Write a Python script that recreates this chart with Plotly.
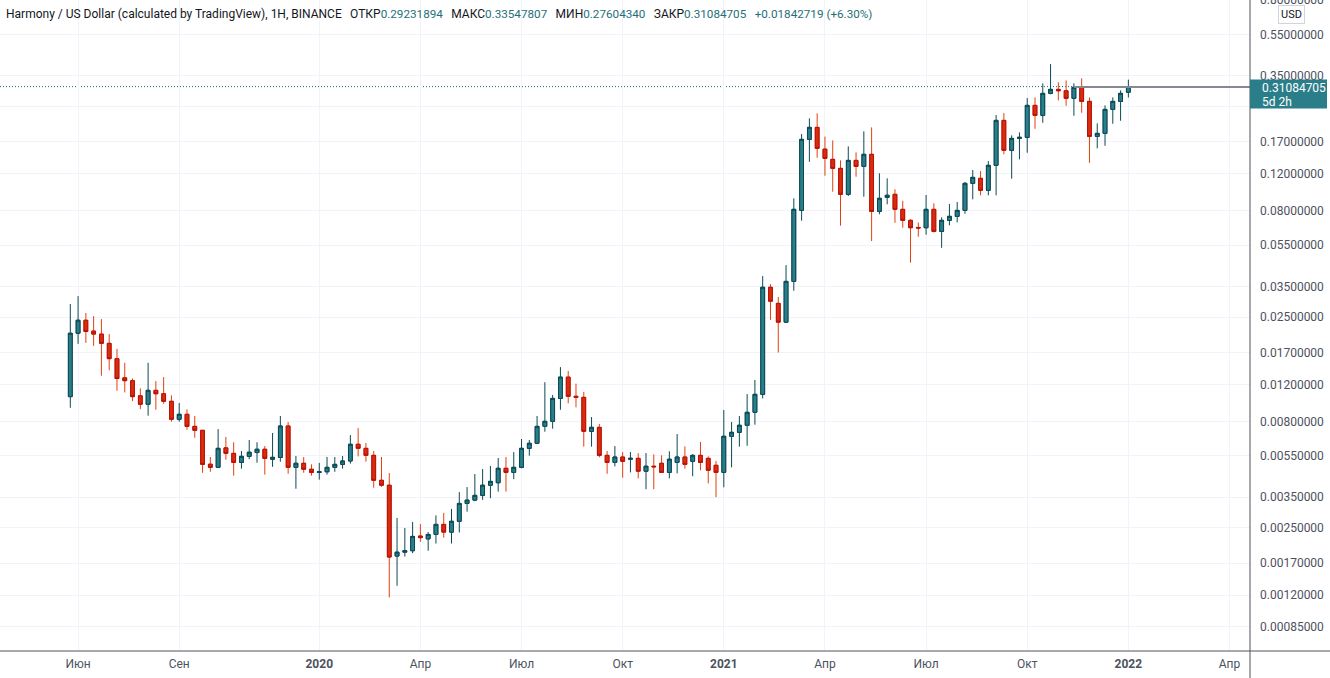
import math
import pandas as pd
import plotly.graph_objects as go

# ---------------- data (weekly candles, ONE/USD) ----------------
start_week = "2019-05-27"

open_ = [0.0105, 0.0210, 0.0242, 0.0215, 0.0208, 0.0188, 0.0159, 0.0129, 0.0125, 0.0106,
         0.00966, 0.01125, 0.01084, 0.00998, 0.0082, 0.00866, 0.00759, 0.00727, 0.00502, 0.00485,
         0.0060, 0.00565, 0.00512, 0.00547, 0.0057, 0.00591, 0.0053, 0.0054, 0.00762, 0.00485,
         0.00507, 0.00475, 0.00459, 0.00462, 0.00485, 0.00501, 0.0052, 0.00624, 0.00597, 0.00553,
         0.00421, 0.00399, 0.00184, 0.00192, 0.00195, 0.00229, 0.00222, 0.00233, 0.0026, 0.00239,
         0.00269, 0.00327, 0.00339, 0.00357, 0.00399, 0.0041, 0.0048, 0.00459, 0.00485, 0.00597,
         0.00631, 0.0076, 0.00802, 0.0103, 0.0130, 0.01054, 0.01042, 0.00719, 0.00751, 0.00553,
         0.00512, 0.00543, 0.0053, 0.00535, 0.00465, 0.00491, 0.00507, 0.00459, 0.00512, 0.00543,
         0.00518, 0.00553, 0.00535, 0.00496, 0.00459, 0.00681, 0.00711, 0.00768, 0.00885, 0.01077,
         0.0347, 0.0291, 0.0237, 0.0370, 0.0804, 0.1746, 0.1991, 0.157, 0.1404, 0.1272,
         0.0958, 0.1388, 0.130, 0.1483, 0.0795, 0.0927, 0.0958, 0.0813, 0.0721, 0.0667,
         0.0665, 0.0813, 0.0639, 0.0721, 0.0753, 0.0804, 0.108, 0.1141, 0.1001, 0.1315,
         0.2149, 0.1549, 0.1765, 0.1785, 0.2532, 0.227, 0.2887, 0.3016, 0.297, 0.2734,
         0.3082, 0.2645, 0.1804, 0.1865, 0.2424, 0.2645, 0.29231894]

high_ = [0.0289, 0.0315, 0.0262, 0.0253, 0.0245, 0.0208, 0.0177, 0.0152, 0.0128, 0.0115,
         0.0152, 0.01245, 0.0130, 0.01065, 0.00979, 0.00914, 0.0085, 0.00729, 0.00543, 0.00737,
         0.00676, 0.00638, 0.0058, 0.00654, 0.00638, 0.00612, 0.00706, 0.0085, 0.00796, 0.00549,
         0.00543, 0.00501, 0.00509, 0.00543, 0.00543, 0.00549, 0.0069, 0.00745, 0.00633, 0.0058,
         0.00543, 0.00456, 0.00279, 0.0025, 0.00267, 0.00261, 0.00239, 0.00287, 0.00295, 0.00308,
         0.0037, 0.00391, 0.00451, 0.00476, 0.00492, 0.00537, 0.00543, 0.00573, 0.00661, 0.00654,
         0.0085, 0.0123, 0.0107, 0.0145, 0.0139, 0.0121, 0.01105, 0.0084, 0.00779, 0.0058,
         0.00612, 0.00573, 0.00573, 0.00567, 0.00567, 0.00559, 0.00553, 0.00578, 0.00698, 0.0061,
         0.0056, 0.0064, 0.00547, 0.0052, 0.00907, 0.00796, 0.0085, 0.0108, 0.0126, 0.0392,
         0.0359, 0.0312, 0.0442, 0.0917, 0.185, 0.2196, 0.232, 0.180, 0.1727, 0.1388,
         0.1618, 0.1515, 0.1906, 0.1991, 0.1205, 0.1141, 0.1012, 0.0893, 0.0729, 0.0705,
         0.0951, 0.0868, 0.0745, 0.0862, 0.0881, 0.1096, 0.1249, 0.1235, 0.1378, 0.2277,
         0.2327, 0.1824, 0.1885, 0.2742, 0.2763, 0.322, 0.3975, 0.3255, 0.3327, 0.322,
         0.340, 0.2763, 0.208, 0.2532, 0.2763, 0.2983, 0.33547807]

low_ = [0.0093, 0.0187, 0.0189, 0.0183, 0.0132, 0.0140, 0.0112, 0.0110, 0.0100, 0.00917,
        0.00853, 0.0091, 0.00972, 0.00799, 0.00799, 0.00732, 0.0067, 0.00457, 0.00462, 0.00484,
        0.00527, 0.00443, 0.00478, 0.0053, 0.0051, 0.00448, 0.00488, 0.00516, 0.00452, 0.00384,
        0.00457, 0.00443, 0.00424, 0.00448, 0.00462, 0.00478, 0.00505, 0.00547, 0.00516, 0.00388,
        0.00392, 0.00117, 0.00133, 0.00183, 0.0019, 0.00215, 0.00195, 0.00211, 0.00225, 0.00211,
        0.00238, 0.00299, 0.00335, 0.0034, 0.00346, 0.00372, 0.00372, 0.00426, 0.0048, 0.00551,
        0.0063, 0.00716, 0.0074, 0.0091, 0.00976, 0.00934, 0.00608, 0.00608, 0.00541, 0.00452,
        0.0049, 0.00433, 0.00459, 0.0043, 0.00382, 0.00382, 0.00457, 0.0043, 0.00454, 0.00478,
        0.0044, 0.0047, 0.00407, 0.0035, 0.0039, 0.00485, 0.00608, 0.00614, 0.00773, 0.0103,
        0.0243, 0.0170, 0.0235, 0.0334, 0.0718, 0.1367, 0.1429, 0.1174, 0.0986, 0.068,
        0.094, 0.1161, 0.0933, 0.0575, 0.077, 0.0859, 0.0702, 0.0665, 0.0454, 0.0603,
        0.0616, 0.0632, 0.0534, 0.0683, 0.0705, 0.0775, 0.0907, 0.0948, 0.0948, 0.0948,
        0.1483, 0.1136, 0.1404, 0.1509, 0.196, 0.2093, 0.2856, 0.2674, 0.2521, 0.226,
        0.2335, 0.1352, 0.1583, 0.1628, 0.2071, 0.214, 0.2760434]

close_ = [0.0210, 0.0242, 0.0214, 0.0208, 0.0188, 0.0159, 0.0128, 0.0125, 0.0105, 0.00966,
          0.01125, 0.01084, 0.00998, 0.0082, 0.00866, 0.00759, 0.00727, 0.00501, 0.00485, 0.00597,
          0.00565, 0.00512, 0.00547, 0.00572, 0.00591, 0.00535, 0.00541, 0.00762, 0.00485, 0.00507,
          0.00475, 0.00459, 0.00462, 0.00485, 0.00501, 0.0052, 0.00624, 0.00597, 0.00553, 0.00421,
          0.00399, 0.00182, 0.00192, 0.00195, 0.00228, 0.00225, 0.00233, 0.0026, 0.00239, 0.00269,
          0.00327, 0.00339, 0.00357, 0.00399, 0.00416, 0.0048, 0.00459, 0.00485, 0.00597, 0.00631,
          0.00759, 0.00802, 0.0103, 0.0130, 0.01054, 0.01042, 0.00719, 0.00751, 0.00553, 0.00512,
          0.00543, 0.00518, 0.00535, 0.00465, 0.00491, 0.00488, 0.00459, 0.0053, 0.00543, 0.00501,
          0.00553, 0.00512, 0.0047, 0.00459, 0.00681, 0.00711, 0.00768, 0.00885, 0.01077, 0.0347,
          0.0298, 0.0237, 0.0370, 0.0813, 0.1746, 0.1991, 0.1583, 0.1419, 0.1272, 0.0958,
          0.1388, 0.130, 0.1483, 0.0795, 0.0917, 0.0948, 0.0813, 0.0721, 0.0665, 0.0663,
          0.0813, 0.0639, 0.0721, 0.0753, 0.0804, 0.108, 0.1153, 0.1001, 0.1315, 0.2149,
          0.1549, 0.1765, 0.1785, 0.2532, 0.227, 0.2887, 0.3016, 0.297, 0.2734, 0.3082,
          0.2645, 0.1804, 0.1865, 0.2424, 0.2645, 0.2887, 0.31084705]

change_text = "+0.01842719 (+6.30%)"

x_tick_dates = ["2019-06-03", "2019-09-02", "2020-01-06", "2020-04-06", "2020-07-06", "2020-10-05",
                "2021-01-04", "2021-04-05", "2021-07-05", "2021-10-04", "2022-01-03", "2022-04-04"]
x_tick_labels = ["Июн", "Сен", "<b>2020</b>", "Апр", "Июл", "Окт",
                 "<b>2021</b>", "Апр", "Июл", "Окт", "<b>2022</b>", "Апр"]
y_tick_vals = [0.00085, 0.0012, 0.0017, 0.0025, 0.0035, 0.0055, 0.008, 0.012, 0.017, 0.025,
               0.035, 0.055, 0.08, 0.12, 0.17, 0.25, 0.35, 0.55, 0.8]
# the 0.25 label sits under the last-price badge in the reference
y_tick_labels = ["" if v == 0.25 else f"{v:.8f}" for v in y_tick_vals]

ray_start_index = 129
ray_level = 0.3095
countdown_text = "5d 2h"

# ---------------- style ----------------
FONT = "Roboto, 'Open Sans', sans-serif"
TEXT = "#131722"
AXIS_TEXT = "#4c525e"
GRID = "#f0f3fa"
UP_FILL = "#2a7e8a"
UP_LINE = "#0b4a55"
DN_FILL = "#d92c0c"
DN_BORDER = "#b3120f"
DN_WICK = "#e2400f"
VAL = "#1f6f78"

W, H = 1330, 678
M_L, M_R, M_T, M_B = 0, 80, 0, 27
PLOT_W, PLOT_H = W - M_L - M_R, H - M_T - M_B

dates = pd.date_range(start_week, periods=len(close_), freq="7D")
x_range = ["2019-03-24 18:00", "2022-04-22 10:48"]
y_range = [-3.1858, -0.0965]

body_hi = [max(o, c) for o, c in zip(open_, close_)]
body_lo = [min(o, c) for o, c in zip(open_, close_)]

fig = go.Figure()
# wicks layer
fig.add_trace(go.Candlestick(
    x=dates, open=open_, high=high_, low=low_, close=close_,
    increasing=dict(line=dict(color=UP_LINE, width=1), fillcolor=UP_FILL),
    decreasing=dict(line=dict(color=DN_WICK, width=1), fillcolor=DN_FILL),
    hoverinfo="skip", showlegend=False, whiskerwidth=0))
# bodies layer (borders)
fig.add_trace(go.Candlestick(
    x=dates, open=open_, high=body_hi, low=body_lo, close=close_,
    increasing=dict(line=dict(color=UP_LINE, width=1), fillcolor=UP_FILL),
    decreasing=dict(line=dict(color=DN_BORDER, width=1), fillcolor=DN_FILL),
    hoverinfo="skip", showlegend=False, whiskerwidth=0))

last_close = close_[-1]
# position of the last price in paper units (for the badge on the price scale)
last_paper = (math.log10(last_close) - y_range[0]) / (y_range[1] - y_range[0])

shapes = [
    # last price dotted line
    dict(type="line", xref="paper", x0=0, x1=1, yref="y", y0=last_close, y1=last_close,
         line=dict(color="#1c6b75", width=1, dash="1px,2px"), layer="below"),
    # horizontal ray
    dict(type="line", xref="x", x0=dates[ray_start_index], x1=x_range[1], yref="y",
         y0=ray_level, y1=ray_level, line=dict(color="#868993", width=2), layer="above"),
    # price-scale border
    dict(type="line", xref="paper", x0=1, x1=1, yref="paper", y0=-0.06, y1=1,
         line=dict(color="#50535e", width=1)),
    # time-scale border
    dict(type="line", xref="paper", x0=0, x1=1.07, yref="paper", y0=0, y1=0,
         line=dict(color="#50535e", width=1)),
    # last-price badge
    dict(type="rect", xref="paper", x0=1.0, x1=1.0616, yref="paper",
         y0=last_paper - 22 / PLOT_H, y1=last_paper + 7 / PLOT_H,
         fillcolor=UP_FILL, line=dict(width=0), layer="above"),
]

GAP = "\u00a0\u00a0\u2009"
def val(s):
    return f"<span style='color:{VAL};font-size:11.7px'>{s}</span>"

title_html = (
    "Harmony / US Dollar (calculated by TradingView), 1H, BINANCE" + GAP +
    "ОТКР" + val(f"{open_[-1]:.8f}") + GAP +
    "МАКС" + val(f"{high_[-1]:.8f}") + GAP +
    "МИН" + val(f"{low_[-1]:.8f}") + GAP +
    "ЗАКР" + val(f"{close_[-1]:.8f}") + GAP +
    val(change_text)
)

annotations = [
    dict(text=title_html, xref="paper", yref="paper", x=4 / PLOT_W, y=1 - 14 / PLOT_H,
         xanchor="left", yanchor="middle", showarrow=False,
         font=dict(family=FONT, size=12, color=TEXT)),
    dict(text=f"{last_close:.8f}", xref="paper", yref="paper",
         x=1 + 10 / PLOT_W, y=last_paper, xanchor="left", yanchor="middle", yshift=-1,
         showarrow=False, font=dict(family=FONT, size=12, color="white")),
    dict(text=countdown_text, xref="paper", yref="paper",
         x=1 + 10 / PLOT_W, y=last_paper, xanchor="left", yanchor="middle", yshift=-15,
         showarrow=False, font=dict(family=FONT, size=12, color="white")),
    dict(text="USD", xref="paper", yref="paper", x=1 + 41 / PLOT_W, y=1 - 14.5 / PLOT_H,
         xanchor="center", yanchor="middle", showarrow=False, bgcolor="white",
         bordercolor="#d1d4dc", borderwidth=1, borderpad=2,
         font=dict(family=FONT, size=11, color=TEXT)),
]

fig.update_layout(
    width=W, height=H,
    margin=dict(l=M_L, r=M_R, t=M_T, b=M_B, autoexpand=False),
    paper_bgcolor="white", plot_bgcolor="white",
    showlegend=False, hovermode=False,
    shapes=shapes, annotations=annotations,
    xaxis=dict(type="date", range=x_range, tickvals=x_tick_dates, ticktext=x_tick_labels,
               showgrid=True, gridcolor=GRID, gridwidth=1, zeroline=False, showline=False,
               ticks="", ticklabelstandoff=4, automargin=False,
               tickfont=dict(family=FONT, size=12, color=AXIS_TEXT),
               rangeslider=dict(visible=False), fixedrange=True),
    yaxis=dict(type="log", side="right", range=y_range, tickvals=y_tick_vals,
               ticktext=y_tick_labels, showgrid=True, gridcolor=GRID, gridwidth=1,
               zeroline=False, showline=False, ticks="", ticklabelstandoff=9,
               ticklabeloverflow="allow", automargin=False,
               tickfont=dict(family=FONT, size=12, color=AXIS_TEXT), fixedrange=True),
)

fig.write_html("out.html")
